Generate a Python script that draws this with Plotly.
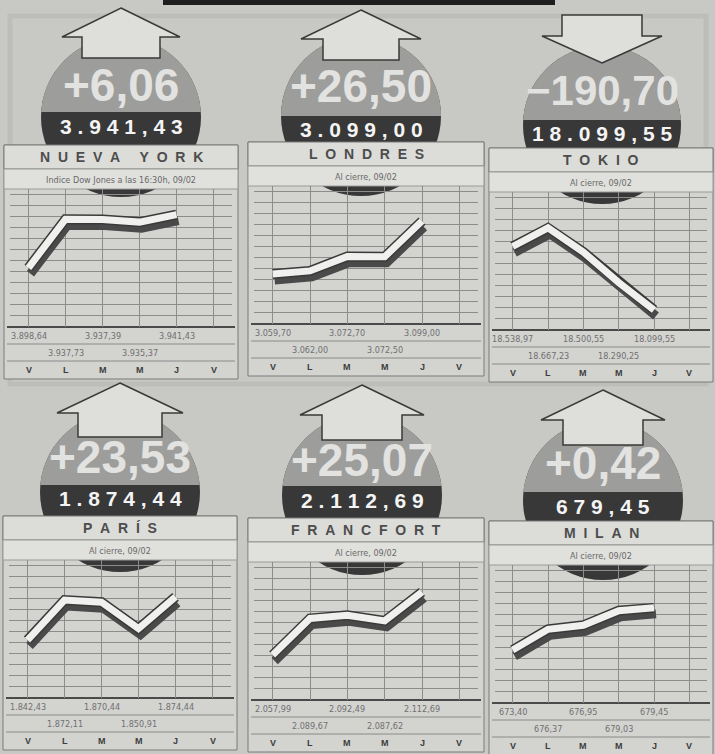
import math
import plotly.graph_objects as go

W, H = 715, 754

# ---------------- data ----------------
markets = ["NUEVA YORK", "LONDRES", "TOKIO", "PARÍS", "FRANCFORT", "MILAN"]
subtitles = ["Indice Dow Jones a las 16:30h, 09/02", "Al cierre, 09/02", "Al cierre, 09/02",
             "Al cierre, 09/02", "Al cierre, 09/02", "Al cierre, 09/02"]
days = ["V", "L", "M", "M", "J", "V"]
nueva_york = [3898.64, 3937.73, 3937.39, 3935.37, 3941.43]
londres = [3059.70, 3062.00, 3072.70, 3072.50, 3099.00]
tokio = [18538.97, 18667.23, 18500.55, 18290.25, 18099.55]
paris = [1842.43, 1872.11, 1870.44, 1850.91, 1874.44]
francfort = [2057.99, 2089.67, 2092.49, 2087.62, 2112.69]
milan = [673.40, 676.37, 676.95, 679.03, 679.45]
changes = [6.06, 26.50, -190.70, 23.53, 25.07, 0.42]
series = [nueva_york, londres, tokio, paris, francfort, milan]

# ---------------- layout of the six panels (pixels) ----------------
panels = [
    dict(x0=4, x1=238, top=145, cx=121, cy=117, r=80, band=(112, 140), num_y=85, num_size=46,
         apex=8, base=37, end=58, hw=59, sw=39, yr=(3851, 3962)),
    dict(x0=248, x1=484, top=142, cx=361, cy=116, r=80, band=(116, 142), num_y=86, num_size=46,
         apex=10, base=39, end=60, hw=60, sw=38, yr=(3022.6, 3125)),
    dict(x0=489, x1=713, top=148, cx=602, cy=125, r=79, band=(120, 147), num_y=90, num_size=42,
         apex=63, base=36, end=15, hw=60, sw=40, yr=(17961, 18916)),
    dict(x0=3, x1=237, top=516, cx=120, cy=492, r=80, band=(485, 512), num_y=457, num_size=46,
         apex=383, base=413, end=437, hw=63, sw=42, yr=(1799.4, 1901.8)),
    dict(x0=248, x1=484, top=518, cx=362, cy=495, r=80, band=(486, 515), num_y=460, num_size=46,
         apex=385, base=415, end=440, hw=62, sw=40, yr=(2018.9, 2138.7)),
    dict(x0=489, x1=713, top=521, cx=603, cy=500, r=80, band=(492, 520), num_y=463, num_size=46,
         apex=390, base=420, end=445, hw=62, sw=40, yr=(665.8, 685.6)),
]

SANS = "Liberation Sans, Arial, Helvetica, sans-serif"
NARROW = "Liberation Sans Narrow, DejaVu Sans Condensed, Liberation Sans, sans-serif"
NB = "\u00a0"


def px(x):
    return x / W


def py(y):
    return 1 - y / H


def es(v):
    s = f"{abs(v):,.2f}"
    return s.replace(",", "X").replace(".", ",").replace("X", ".")


def sign_fmt(v):
    return ("+" if v >= 0 else "\u2212") + es(v)


def spaced(s, sep=NB):
    return sep.join(NB if c == " " else c for c in s)


shapes = []
annotations = []


def rect(x0, y0, x1, y1, fill, line=None, lw=0):
    shapes.append(dict(type="rect", xref="paper", yref="paper", layer="below",
                       x0=px(x0), x1=px(x1), y0=py(y1), y1=py(y0),
                       fillcolor=fill, line=dict(color=line or fill, width=lw)))


def hline(x0, x1, y, color, width):
    shapes.append(dict(type="line", xref="paper", yref="paper", layer="below",
                       x0=px(x0), x1=px(x1), y0=py(y), y1=py(y),
                       line=dict(color=color, width=width)))


def path(points, fill, line, lw):
    d = "M " + " L ".join(f"{px(x):.5f},{py(y):.5f}" for x, y in points) + " Z"
    shapes.append(dict(type="path", xref="paper", yref="paper", layer="below", path=d,
                       fillcolor=fill, line=dict(color=line, width=lw)))


# faint outer frame of the graphic
rect(10, 16, 706, 384, "rgba(0,0,0,0)", "#bdbdb9", 5)

# top black bar
rect(163, 0, 555, 5, "#1e1e1e")

# panel bodies
for p in panels:
    rect(p["x0"], p["top"], p["x1"], p["top"] + 234, "#d3d3d0", "#7a7a7a", 1)

# circles (dark) with lighter upper segment
for p in panels:
    cx, cy, r = p["cx"], p["cy"], p["r"]
    shapes.append(dict(type="circle", xref="paper", yref="paper", layer="below",
                       x0=px(cx - r), x1=px(cx + r), y0=py(cy + r), y1=py(cy - r),
                       fillcolor="#383838", line=dict(color="#383838", width=0)))
    yb = p["band"][0]
    s = math.asin((yb - cy) / r)
    t0, t1 = math.pi - s, 2 * math.pi + s
    pts = [(cx + r * math.cos(t0 + (t1 - t0) * k / 60), cy + r * math.sin(t0 + (t1 - t0) * k / 60))
           for k in range(61)]
    path(pts, "#9d9d9b", "#9d9d9b", 0)

# header + subtitle boxes, label rows
for p in panels:
    t = p["top"]
    rect(p["x0"], t, p["x1"], t + 24, "#dcdcd9", "#7a7a7a", 1)
    rect(p["x0"], t + 24, p["x1"], t + 44, "#e0e0dd", "#9a9a9a", 1)
    hline(p["x0"] + 3, p["x1"] - 3, t + 182, "#4a4a4a", 2)
    hline(p["x0"] + 3, p["x1"] - 3, t + 199, "#8a8a8a", 1)
    hline(p["x0"] + 3, p["x1"] - 3, t + 216, "#8a8a8a", 1)

# arrows
for p in panels:
    cx = p["cx"]
    a, b, e, hw, sw = p["apex"], p["base"], p["end"], p["hw"], p["sw"]
    path([(cx, a), (cx + hw, b), (cx + sw, b), (cx + sw, e), (cx - sw, e), (cx - sw, b), (cx - hw, b)],
         "#dededb", "#3a3a3a", 1.5)


def axkey(k, n):
    return f"{k}axis" if n == 1 else f"{k}axis{n}"


def axref(k, n):
    return k if n == 1 else f"{k}{n}"


layout_axes = {}
fig = go.Figure()
idx = list(range(5))

for i, (p, vals) in enumerate(zip(panels, series)):
    t = p["top"]
    X0, X1 = p["x0"] + 6, p["x1"] - 6
    Y0, Y1 = t + 44, t + 182
    xd = [px(X0), px(X1)]
    yd = [py(Y1), py(Y0)]
    lo, hi = p["yr"]
    gid, sid, mid = i + 1, i + 7, i + 13

    # grid axes
    layout_axes[axkey("x", gid)] = dict(domain=xd, range=[-0.5, 5.5], anchor=axref("y", gid),
                                        showgrid=True, gridcolor="#8c8c8a", gridwidth=1, dtick=1, tick0=0,
                                        showticklabels=False, ticks="", zeroline=False, showline=False,
                                        fixedrange=True)
    layout_axes[axkey("y", gid)] = dict(domain=yd, range=[lo, hi], anchor=axref("x", gid),
                                        showgrid=True, gridcolor="#8c8c8a", gridwidth=1,
                                        dtick=(hi - lo) / 12.5, tick0=lo,
                                        showticklabels=False, ticks="", zeroline=False, showline=False,
                                        fixedrange=True)
    fig.add_trace(go.Scatter(x=[None], y=[None], xaxis=axref("x", gid), yaxis=axref("y", gid),
                             showlegend=False, hoverinfo="skip"))

    # shadow axes (offset)
    dx, dy = 2, 6
    layout_axes[axkey("x", sid)] = dict(domain=[px(X0 + dx), px(X1 + dx)], range=[-0.5, 5.5],
                                        anchor=axref("y", sid), visible=False, fixedrange=True)
    layout_axes[axkey("y", sid)] = dict(domain=[py(Y1 + dy), py(Y0 + dy)], range=[lo, hi],
                                        anchor=axref("x", sid), visible=False, fixedrange=True)
    fig.add_trace(go.Scatter(x=idx, y=vals, mode="lines", line=dict(color="#4a4a4a", width=9),
                             xaxis=axref("x", sid), yaxis=axref("y", sid),
                             showlegend=False, hoverinfo="skip"))

    # main axes
    layout_axes[axkey("x", mid)] = dict(domain=xd, range=[-0.5, 5.5], anchor=axref("y", mid),
                                        visible=False, fixedrange=True)
    layout_axes[axkey("y", mid)] = dict(domain=yd, range=[lo, hi], anchor=axref("x", mid),
                                        visible=False, fixedrange=True)
    fig.add_trace(go.Scatter(x=idx, y=vals, mode="lines", line=dict(color="#3a3a3a", width=10),
                             xaxis=axref("x", mid), yaxis=axref("y", mid),
                             showlegend=False, hoverinfo="skip"))
    fig.add_trace(go.Scatter(x=idx, y=vals, mode="lines", line=dict(color="#f0f0ee", width=7),
                             xaxis=axref("x", mid), yaxis=axref("y", mid),
                             showlegend=False, hoverinfo="skip"))

    # texts
    xc = px((p["x0"] + p["x1"]) / 2)
    annotations.append(dict(xref="paper", yref="paper", x=xc, y=py(t + 12), showarrow=False,
                            text="<b>" + spaced(markets[i], NB + NB) + "</b>",
                            font=dict(family=SANS, size=14, color="#4d4d4d"),
                            xanchor="center", yanchor="middle"))
    annotations.append(dict(xref="paper", yref="paper", x=xc, y=py(t + 35), showarrow=False,
                            text=subtitles[i], font=dict(family=NARROW, size=9, color="#686868"),
                            xanchor="center", yanchor="middle"))
    for j, v in enumerate(vals):
        yy = t + 191 if j % 2 == 0 else t + 208
        annotations.append(dict(xref=axref("x", mid), yref="paper", x=j, y=py(yy), showarrow=False,
                                text=es(v), font=dict(family=NARROW, size=9, color="#707070"),
                                xanchor="center", yanchor="middle"))
    for j, d in enumerate(days):
        annotations.append(dict(xref=axref("x", mid), yref="paper", x=j, y=py(t + 225), showarrow=False,
                                text="<b>" + d + "</b>", font=dict(family=SANS, size=9, color="#3d3d3d"),
                                xanchor="center", yanchor="middle"))
    annotations.append(dict(xref="paper", yref="paper", x=px(p["cx"]), y=py(p["num_y"]), showarrow=False,
                            text="<b>" + sign_fmt(changes[i]) + "</b>",
                            font=dict(family=SANS, size=p["num_size"], color="#e2e2e0"),
                            xanchor="center", yanchor="middle"))
    annotations.append(dict(xref="paper", yref="paper", x=px(p["cx"]),
                            y=py((p["band"][0] + p["band"][1]) / 2), showarrow=False,
                            text="<b>" + spaced(es(vals[-1])) + "</b>",
                            font=dict(family=SANS, size=21, color="#f4f4f4"),
                            xanchor="center", yanchor="middle"))

fig.update_layout(
    width=W, height=H, autosize=False,
    margin=dict(l=0, r=0, t=0, b=0, pad=0),
    paper_bgcolor="#c8c8c4", plot_bgcolor="rgba(0,0,0,0)",
    showlegend=False, shapes=shapes, annotations=annotations,
    **layout_axes,
)

fig.write_html("out.html", config={"displayModeBar": False})

# remove the browser's default page margin so the figure sits at the window's corner
with open("out.html", encoding="utf-8") as fh:
    html = fh.read()
html = html.replace("<head>", "<head><style>html,body{margin:0;padding:0;overflow:hidden;}</style>", 1)
with open("out.html", "w", encoding="utf-8") as fh:
    fh.write(html)
